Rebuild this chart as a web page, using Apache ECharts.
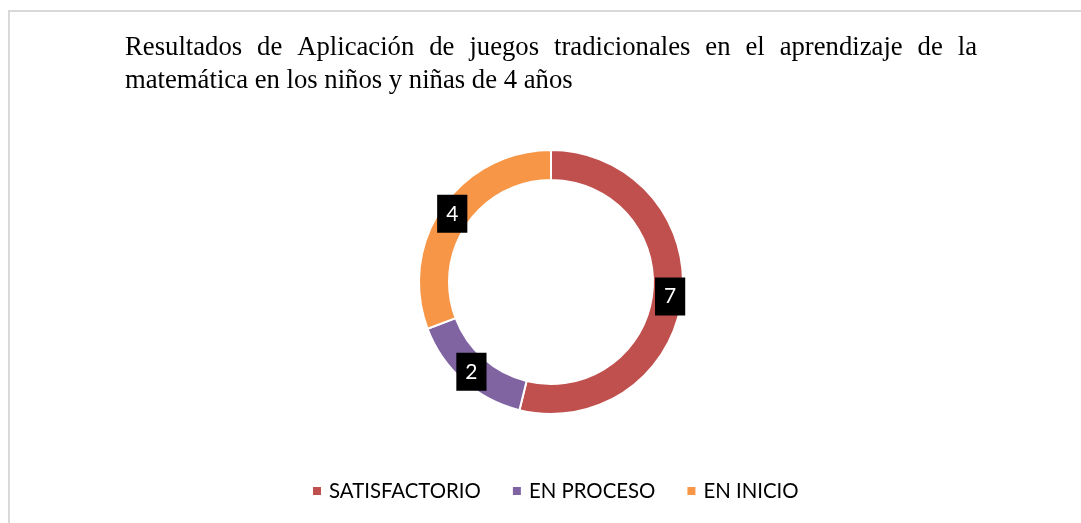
<!DOCTYPE html>
<html lang="es">
<head>
    <meta charset="UTF-8">
    <title>Resultados juegos tradicionales</title>
    <style>
        html, body { margin: 0; padding: 0; background: #fff; }
        #main { width: 1081px; height: 523px; }
    </style>
</head>
<body>
<div id="main"></div>
<script src="https://cdn.jsdelivr.net/npm/echarts@6/dist/echarts.min.js"></script>
<script>
    // datos
    const categories = ['SATISFACTORIO', 'EN PROCESO', 'EN INICIO'];
    const values = [7, 2, 4];
    const colors = ['#C0504D', '#8064A2', '#F79646'];
    const titleLine1 = 'Resultados de Aplicación de juegos tradicionales en el aprendizaje de la';
    const titleLine2 = 'matemática en los niños y niñas de 4 años';

    const myChart = echarts.init(document.getElementById('main'));

    // título justificado: la primera línea se reparte entre x=125 y x=977
    const titleSize = 26.7;
    const ctx = document.createElement('canvas').getContext('2d');
    ctx.font = titleSize + 'px "Liberation Serif"';
    const words = titleLine1.split(' ');
    const lineLeft = 125, lineRight = 977;
    const wordsWidth = words.reduce((s, w) => s + ctx.measureText(w).width, 0);
    const gap = (lineRight - lineLeft - wordsWidth) / (words.length - 1);
    const titleStyle = {
        fontFamily: 'Liberation Serif',
        fontSize: titleSize,
        fontWeight: 'normal',
        color: '#000',
        lineHeight: titleSize
    };
    const titles = [];
    let x = lineLeft;
    words.forEach(w => {
        titles.push({ text: w, left: x, top: 34.5, padding: 0, textStyle: titleStyle });
        x += ctx.measureText(w).width + gap;
    });
    titles.push({ text: titleLine2, left: lineLeft, top: 67.5, padding: 0, textStyle: titleStyle });

    const option = {
        animation: false,
        title: titles,
        // marco gris del gráfico
        graphic: [{
            type: 'polyline',
            shape: { points: [[9, 530], [9, 11], [1100, 11]] },
            style: { stroke: '#d9d9d9', lineWidth: 2, fill: null }
        }],
        legend: {
            bottom: 17,
            left: 306,
            padding: 5,
            icon: 'rect',
            itemWidth: 10,
            itemHeight: 10,
            itemGap: 30,
            textStyle: { fontFamily: 'Lato', fontSize: 20.4, color: '#000', padding: [0, 0, 0, 2] },
            data: categories
        },
        series: [{
            type: 'pie',
            center: [551, 282],
            radius: [102, 132],
            startAngle: 90,
            clockwise: true,
            itemStyle: { borderColor: '#fff', borderWidth: 2 },
            label: {
                show: true,
                position: 'inside',
                formatter: '{c}',
                color: '#fff',
                backgroundColor: '#000',
                fontFamily: 'Lato',
                fontSize: 21,
                lineHeight: 20,
                padding: [9, 9]
            },
            labelLine: { show: false },
            emphasis: { disabled: true },
            data: categories.map((name, i) => ({
                name,
                value: values[i],
                itemStyle: { color: colors[i] }
            }))
        }]
    };

    myChart.setOption(option);
</script>
</body>
</html>
